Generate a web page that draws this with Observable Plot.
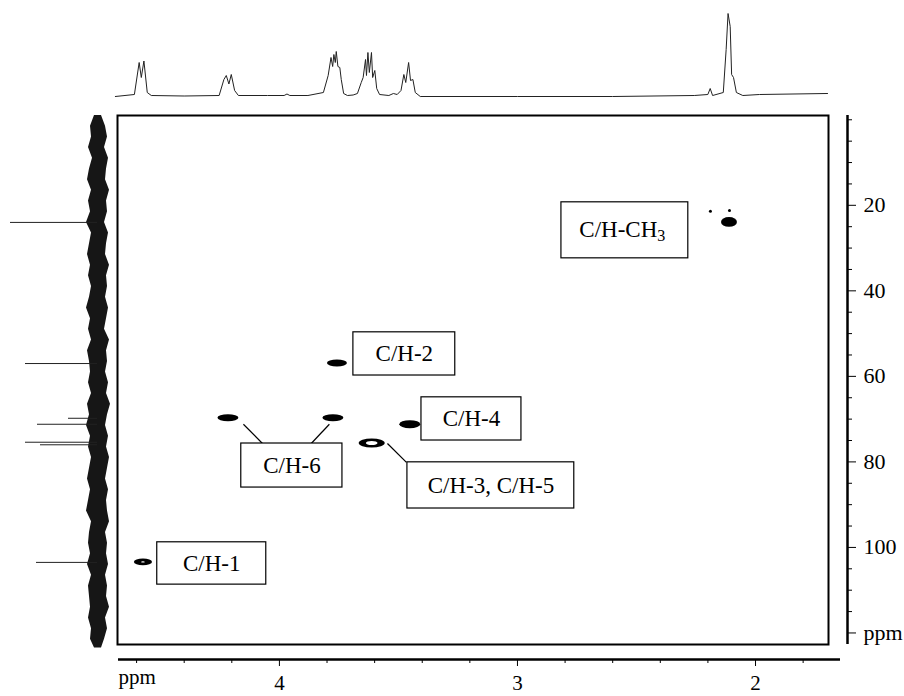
<!DOCTYPE html>
<html>
<head>
<meta charset="utf-8">
<script src="https://cdn.jsdelivr.net/npm/d3@7"></script>
<script src="https://cdn.jsdelivr.net/npm/@observablehq/plot@0.6"></script>
<style>
  body { margin: 0; background: #fff; }
  #chart { position: relative; width: 904px; height: 696px; overflow: hidden; background: #fff; }
  #chart svg { position: absolute; left: 0; top: 0; }
</style>
</head>
<body>
<div id="chart"></div>
<script>
// ---------- 2D cross peaks (1H ppm, 13C ppm) ----------
const peakH = [2.109, 3.756, 4.214, 3.773, 3.450, 3.610, 4.571];
const peakC = [24.0, 57.0, 69.8, 69.8, 71.3, 75.7, 103.5];
const peakWidthH = [0.067, 0.084, 0.088, 0.088, 0.088, 0.109, 0.076];
const peakWidthC = [2.3, 1.6, 1.6, 1.6, 1.9, 2.1, 1.6];
const peakHole = [0, 0, 0, 0, 0, 0.45, 0.2];
const spotH = [2.189, 2.109];
const spotC = [21.4, 21.2];

// ---------- assignment labels ----------
const labelText = ["C/H-CH3", "C/H-2", "C/H-4", "C/H-6", "C/H-3, C/H-5", "C/H-1"];
const labelH = [2.559, 3.475, 3.193, 3.947, 3.111, 4.284];
const labelC = [25.6, 54.7, 69.9, 80.8, 85.5, 103.7];
const boxH1 = [2.815, 3.689, 3.403, 4.160, 3.462, 4.513];
const boxH2 = [2.282, 3.261, 2.983, 3.735, 2.761, 4.055];
const boxC1 = [19.3, 49.7, 64.9, 75.7, 80.1, 98.8];
const boxC2 = [32.4, 59.8, 75.0, 86.0, 90.9, 108.7];
const leaderH1 = [4.151, 3.790, 3.546];
const leaderC1 = [71.2, 71.2, 75.7];
const leaderH2 = [4.071, 3.866, 3.466];
const leaderC2 = [75.7, 75.7, 80.1];

// ---------- 1H projection (top) ----------
const protonShift = [4.689, 4.609, 4.589, 4.580, 4.569, 4.555, 4.538, 4.400, 4.253, 4.233, 4.223, 4.212, 4.202, 4.188, 4.172, 4.050, 3.980, 3.968, 3.956, 3.880, 3.815, 3.795, 3.783, 3.776, 3.771, 3.765, 3.761, 3.754, 3.746, 3.740, 3.730, 3.714, 3.690, 3.672, 3.656, 3.648, 3.638, 3.634, 3.628, 3.622, 3.613, 3.608, 3.599, 3.591, 3.579, 3.540, 3.521, 3.505, 3.489, 3.477, 3.469, 3.457, 3.449, 3.439, 3.429, 3.408, 3.000, 2.600, 2.257, 2.200, 2.190, 2.180, 2.135, 2.123, 2.115, 2.106, 2.100, 2.092, 2.080, 2.053, 1.983, 1.697];
const protonIntensity = [0, 2, 34, 19, 35.5, 4, 1, 0.5, 1, 17, 21, 12.5, 22, 6, 1, 1, 1, 2.5, 1, 1, 4, 21, 39, 30, 42, 34, 45, 30, 29, 17, 3, 1, 1.5, 3, 14, 19, 37, 21, 44, 24, 44, 19, 26, 8, 2, 1, 3, 2, 6, 22, 14, 34, 16, 17, 4, 0, 0, 0, 1, 2, 8, 1, 4, 47, 83, 70, 22, 19, 4, 1, 2, 3];

// ---------- 13C projection (left) ----------
const carbonShift = [24.0, 57.0, 69.8, 71.2, 75.4, 76.0, 103.5];
const carbonIntensity = [87, 72, 29, 60, 72, 57, 61];
const noiseC = [-1, 1.5, 4, 6.5, 9, 11.5, 14, 16.5, 19, 21.5, 24, 26.5, 29, 31.5, 34, 36.5, 39, 41.5, 44, 46.5, 49, 51.5, 54, 56.5, 59, 61.5, 64, 66.5, 69, 71.5, 74, 76.5, 79, 81.5, 84, 86.5, 89, 91.5, 94, 96.5, 99, 101.5, 104, 106.5, 109, 111.5, 114, 116.5, 119, 121.5, 123.5];
const noiseLeft = [3, 7, 6, 9, 5, 8, 10, 6, 9, 7, 11, 6, 8, 10, 7, 9, 6, 8, 11, 7, 9, 6, 10, 8, 7, 9, 6, 10, 8, 11, 7, 9, 6, 8, 10, 7, 9, 11, 6, 8, 9, 7, 10, 6, 9, 8, 7, 9, 6, 7, 3];
const noiseRight = [-4, -8, -10, -7, -11, -9, -8, -12, -9, -10, -7, -11, -9, -8, -12, -9, -10, -8, -11, -9, -7, -12, -9, -10, -8, -11, -9, -13, -10, -8, -11, -9, -12, -10, -8, -11, -9, -10, -12, -8, -10, -9, -11, -8, -10, -9, -12, -8, -10, -7, -4];

// ---------- axes ----------
const majorC = [20, 40, 60, 80, 100, 120];
const minorC = [0, 5, 10, 15, 25, 30, 35, 45, 50, 55, 65, 70, 75, 85, 90, 95, 105, 110, 115];
const majorH = [4, 3, 2];
const minorH = [4.6, 4.4, 4.2, 3.8, 3.6, 3.4, 3.2, 2.8, 2.6, 2.4, 2.2, 1.8];
const hDomain = [4.68, 1.693];
const cDomain = [-1, 122.7];

// ---------- build ----------
const peaks = peakH.map((h, i) => ({h, c: peakC[i], wh: peakWidthH[i], wc: peakWidthC[i], hole: peakHole[i]}));
const holes = peaks.filter(p => p.hole > 0);
const spots = spotH.map((h, i) => ({h, c: spotC[i]}));
const labels = labelText.map((t, i) => ({t, h: labelH[i], c: labelC[i], bh1: boxH1[i], bh2: boxH2[i], bc1: boxC1[i], bc2: boxC2[i]}));
const leaders = leaderH1.map((h, i) => ({h1: h, c1: leaderC1[i], h2: leaderH2[i], c2: leaderC2[i]}));
const protonTrace = protonShift.map((p, i) => ({p, v: protonIntensity[i]}));
const carbonPeaks = carbonShift.map((c, i) => ({c, v: carbonIntensity[i]}));
const noise = noiseC.map((c, i) => ({c, l: noiseLeft[i], r: noiseRight[i]}));

const baseStyle = {
  fontFamily: "'Liberation Serif', 'Times New Roman', serif",
  fontSize: "22px",
  background: "transparent",
  overflow: "visible",
  color: "#000"
};
const chart = document.getElementById("chart");

// left 13C trace
chart.append(Plot.plot({
  width: 117, height: 696,
  marginLeft: 0, marginRight: 0, marginTop: 115, marginBottom: 52,
  x: {domain: [97, -20], axis: null},
  y: {domain: cDomain, reverse: true, axis: null},
  style: baseStyle,
  marks: [
    Plot.areaX(noise, {y: "c", x1: "l", x2: "r", fill: "#161616"}),
    Plot.ruleY(carbonPeaks, {y: "c", x1: 0, x2: "v", stroke: "#222", strokeWidth: 1})
  ]
}));

// top 1H trace
chart.append(Plot.plot({
  width: 904, height: 115,
  marginLeft: 117, marginRight: 76, marginTop: 0, marginBottom: 19,
  x: {domain: hDomain, axis: null},
  y: {domain: [0, 96], axis: null},
  style: baseStyle,
  marks: [
    Plot.line(protonTrace, {x: "p", y: "v", stroke: "#222", strokeWidth: 1})
  ]
}));

// main 2D area
const main = Plot.plot({
  width: 904, height: 696,
  marginLeft: 117, marginRight: 76, marginTop: 115, marginBottom: 52,
  x: {domain: hDomain, axis: null},
  y: {domain: cDomain, reverse: true, axis: null},
  style: baseStyle,
  marks: [
    Plot.frame({stroke: "#000", strokeWidth: 2}),
    Plot.link(leaders, {x1: "h1", y1: "c1", x2: "h2", y2: "c2", stroke: "#000", strokeWidth: 1.2}),
    Plot.rect(labels, {x1: "bh1", x2: "bh2", y1: "bc1", y2: "bc2", fill: "#fff", stroke: "#000", strokeWidth: 1.2}),
    Plot.text(labels, {x: "h", y: "c", text: "t", fill: "#000", fontSize: 23}),
    Plot.rect(peaks, {
      x1: d => d.h + d.wh / 2, x2: d => d.h - d.wh / 2,
      y1: d => d.c - d.wc / 2, y2: d => d.c + d.wc / 2,
      rx: 50, ry: 50, fill: "#000"
    }),
    Plot.rect(holes, {
      x1: d => d.h + d.wh * d.hole / 2, x2: d => d.h - d.wh * d.hole / 2,
      y1: d => d.c - d.wc * d.hole / 2, y2: d => d.c + d.wc * d.hole / 2,
      rx: 50, ry: 50, fill: "#fff"
    }),
    Plot.dot(spots, {x: "h", y: "c", r: 1.5, fill: "#000"})
  ]
});
chart.append(main);
d3.select(main).selectAll("text").filter(function () { return this.textContent === "C/H-CH3"; })
  .each(function () {
    const t = d3.select(this);
    t.text(null);
    t.append("tspan").text("C/H-CH");
    t.append("tspan").attr("dy", "0.3em").attr("font-size", "0.7em").text("3");
  });

// right 13C axis
chart.append(Plot.plot({
  width: 904, height: 696,
  marginLeft: 846, marginRight: 57, marginTop: 115, marginBottom: 52,
  x: {domain: [0, 1], axis: null},
  y: {domain: cDomain, reverse: true, axis: null},
  style: baseStyle,
  marks: [
    Plot.ruleX([1], {stroke: "#000", strokeWidth: 2.5}),
    Plot.axisY({ticks: minorC, anchor: "right", tickSize: 4, tickFormat: () => ""}),
    Plot.axisY({ticks: majorC, anchor: "right", tickSize: 8, tickPadding: 8, tickFormat: d => d === 120 ? "ppm" : String(d)})
  ]
}));

// bottom 1H axis
chart.append(Plot.plot({
  width: 904, height: 696,
  marginLeft: 118, marginRight: 64, marginTop: 658, marginBottom: 37,
  x: {domain: [4.676, 1.643], axis: null},
  y: {domain: [0, 1], axis: null},
  style: {...baseStyle, fontSize: "21px"},
  marks: [
    Plot.ruleY([0], {stroke: "#000", strokeWidth: 2.5}),
    Plot.axisX({ticks: minorH, anchor: "bottom", tickSize: 4, tickFormat: () => ""}),
    Plot.axisX({ticks: majorH, anchor: "bottom", tickSize: 7, tickPadding: 9, tickFormat: d => String(d)}),
    Plot.text(["ppm"], {frameAnchor: "bottom-left", textAnchor: "start", dy: 24})
  ]
}));
</script>
</body>
</html>
